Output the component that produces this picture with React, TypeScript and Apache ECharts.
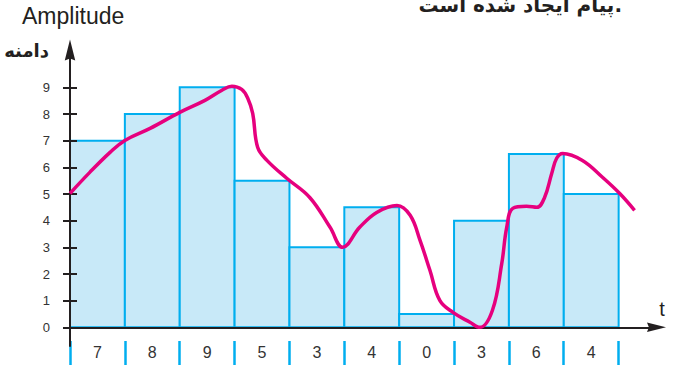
import React, { useEffect, useRef } from "react";
import * as echarts from "echarts";

const barValues = [7, 8, 9, 5.5, 3, 4.5, 0.5, 4, 6.5, 5];
const quantLabels = ["7", "8", "9", "5", "3", "4", "0", "3", "6", "4"];
const yTicks = [0, 1, 2, 3, 4, 5, 6, 7, 8, 9];
const curveT = [
  0, 0.36, 0.73, 1.0, 1.46, 2.0, 2.46, 2.77, 2.95, 3.13, 3.24, 3.33, 3.42, 3.59, 3.95, 4.37, 4.74, 4.97,
  5.28, 5.59, 5.96, 6.2, 6.38, 6.56, 6.74, 6.98, 7.29, 7.47, 7.7, 7.87, 7.96, 8.07, 8.32, 8.51, 8.65,
  8.78, 8.87, 8.98, 9.34, 9.71, 10.02, 10.29,
];
const curveA = [
  5.02, 5.81, 6.56, 7.01, 7.46, 8.06, 8.51, 8.89, 9.04, 8.92, 8.59, 8.02, 6.75, 6.26, 5.59, 4.87, 3.75, 3.0,
  3.75, 4.31, 4.57, 4.2, 3.26, 2.14, 1.01, 0.56, 0.19, 0.0, 0.64, 2.4, 3.75, 4.46, 4.54, 4.5, 4.87,
  5.77, 6.34, 6.52, 6.26, 5.62, 5.02, 4.39,
];

const AXIS = "#231f20";
const BLUE = "#00aeef";
const FILL = "#c8e9f8";
const MAGENTA = "#e6007e";
const ARROW = "path://M5,0 L10,20 L5,18 L0,20 Z";

export default function App() {
  const ref = useRef<HTMLDivElement>(null);
  useEffect(() => {
    if (!ref.current) return;
    const chart = echarts.init(ref.current, null, { renderer: "svg" });
    chart.setOption({
      animation: false,
      textStyle: { fontFamily: "Liberation Sans" },
      grid: [
        { left: 70, right: 20.5, top: 50, bottom: 20 },
        { left: 70, width: 548.6, top: 341, height: 24 },
      ],
      xAxis: [
        {
          type: "value",
          gridIndex: 0,
          min: 0,
          max: 10.69,
          z: 3,
          axisLine: {
            onZero: true,
            lineStyle: { color: AXIS, width: 2 },
            symbol: ["none", ARROW],
            symbolSize: [15, 19],
          },
          axisTick: { show: false },
          axisLabel: { show: false },
          splitLine: { show: false },
        },
        {
          type: "category",
          gridIndex: 1,
          data: quantLabels,
          boundaryGap: true,
          position: "bottom",
          axisLine: { show: false },
          axisTick: { show: true, inside: true, length: 24, lineStyle: { color: BLUE, width: 2.5 } },
          axisLabel: { inside: true, margin: 5, fontSize: 16, color: "#333" },
          splitLine: { show: false },
        },
      ],
      yAxis: [
        {
          type: "value",
          gridIndex: 0,
          position: "left",
          min: -0.7,
          max: 10.4,
          z: 3,
          axisLine: {
            onZero: true,
            lineStyle: { color: AXIS, width: 2 },
            symbol: ["none", ARROW],
            symbolSize: [17, 21],
          },
          axisTick: { show: true, length: 7, customValues: yTicks, lineStyle: { color: AXIS, width: 2 } },
          axisLabel: { customValues: yTicks, margin: 20, fontSize: 13, color: "#333" },
          splitLine: { show: false },
        },
        {
          type: "value",
          gridIndex: 0,
          position: "left",
          offset: 0,
          min: -0.7,
          max: 10.4,
          z: 3,
          axisLine: { show: false, onZero: false },
          axisTick: { show: true, inside: true, length: 7, customValues: yTicks, lineStyle: { color: AXIS, width: 2 } },
          axisLabel: { show: false },
          splitLine: { show: false },
        },
        {
          type: "value",
          gridIndex: 1,
          show: false,
        },
      ],
      series: [
        {
          type: "custom",
          xAxisIndex: 0,
          yAxisIndex: 0,
          z: 1,
          data: barValues.map((v, i) => [i, v]),
          encode: { x: 0, y: 1 },
          renderItem: (params: any, api: any) => {
            const i = api.value(0);
            const v = api.value(1);
            const p0 = api.coord([i, v]);
            const p1 = api.coord([i + 1, 0]);
            return {
              type: "rect",
              shape: { x: p0[0], y: p0[1], width: p1[0] - p0[0], height: p1[1] - p0[1] },
              style: { fill: FILL, stroke: BLUE, lineWidth: 2 },
            };
          },
        },
        {
          type: "line",
          xAxisIndex: 0,
          yAxisIndex: 0,
          z: 5,
          clip: false,
          smooth: 0.4,
          symbol: "none",
          lineStyle: { color: MAGENTA, width: 3.5 },
          data: curveT.map((t, i) => [t, curveA[i]]),
        },
      ],
      graphic: [
        {
          type: "text",
          left: 22,
          top: 4,
          style: { text: "Amplitude", fontSize: 23, fill: AXIS, fontFamily: "Liberation Sans" },
        },
        {
          type: "text",
          x: 49,
          y: 50,
          style: {
            text: "دامنه",
            fontSize: 18,
            fontWeight: "bold",
            fill: AXIS,
            fontFamily: "DejaVu Sans",
            align: "right",
            verticalAlign: "middle",
          },
        },
        {
          type: "text",
          x: 622,
          y: 5,
          style: {
            text: "پیام ایجاد شده است.",
            fontSize: 20,
            fontWeight: "bold",
            fill: AXIS,
            fontFamily: "DejaVu Sans",
            align: "right",
            verticalAlign: "middle",
          },
        },
        {
          type: "text",
          x: 662,
          y: 309,
          style: {
            text: "t",
            fontSize: 20,
            fill: AXIS,
            fontFamily: "Liberation Sans",
            align: "center",
            verticalAlign: "middle",
          },
        },
      ],
    });
    return () => chart.dispose();
  }, []);
  return <div ref={ref} style={{ width: 677, height: 366, position: "absolute", left: 0, top: 0 }} />;
}
